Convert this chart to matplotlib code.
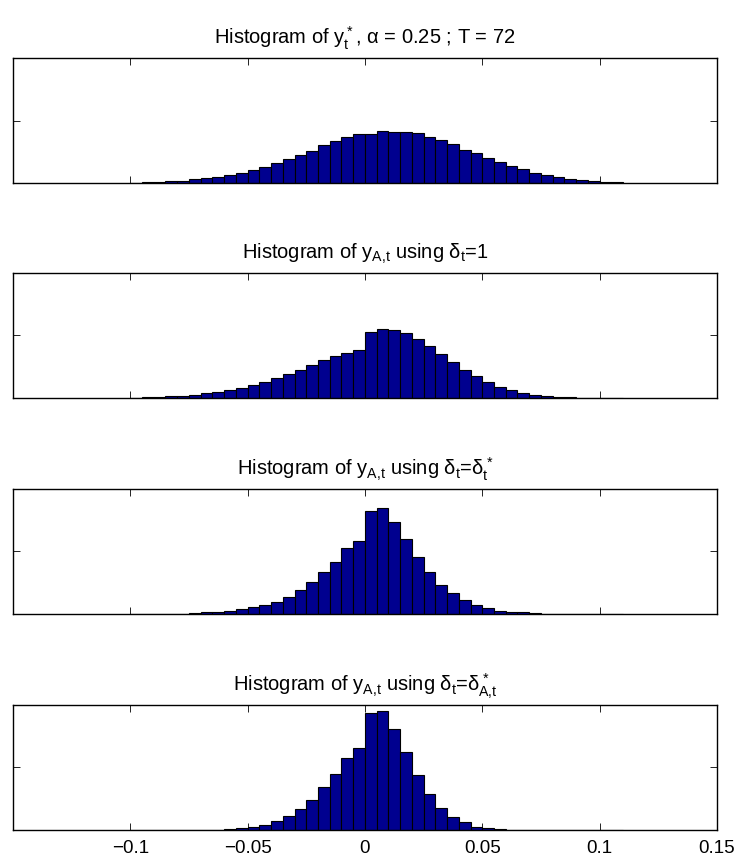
import numpy as np
import matplotlib
matplotlib.use("Agg")
import matplotlib.pyplot as plt

plt.rcParams["font.family"] = ["Liberation Sans", "DejaVu Sans"]
plt.rcParams["mathtext.fontset"] = "custom"
plt.rcParams["mathtext.rm"] = "Liberation Sans"
plt.rcParams["mathtext.it"] = "Liberation Sans"
plt.rcParams["mathtext.bf"] = "Liberation Sans"

# common bin grid: 42 bins of width 0.005 starting at -0.1
bin_start = -0.1
bin_width = 0.005
n_bins = 42

titles = [
    r"Histogram of $y_t^*$, α = 0.25 ; T = 72",
    r"Histogram of $y_{A{,}t}$ using $\delta_t$=1",
    r"Histogram of $y_{A{,}t}$ using $\delta_t$=$\delta_t^*$",
    r"Histogram of $y_{A{,}t}$ using $\delta_t$=$\delta_{A{,}t}^*$",
]

counts_ystar = [20, 50, 80, 130, 190, 290, 370, 480, 610, 830,
                1010, 1280, 1600, 1920, 2240, 2590, 3010, 3390, 3650, 3890,
                3950, 4190, 4080, 4110, 3970, 3650, 3410, 3090, 2670, 2370,
                1970, 1650, 1330, 1090, 770, 610, 510, 350, 210, 160,
                110, 80]
counts_delta1 = [20, 40, 80, 130, 190, 270, 370, 480, 610, 820,
                 1040, 1300, 1570, 1910, 2210, 2610, 3010, 3380, 3590, 3860,
                 5290, 5510, 5450, 5190, 4730, 4180, 3480, 2870, 2260, 1760,
                 1250, 880, 640, 370, 240, 160, 80, 40, 10, 0,
                 0, 0]
counts_dstar = [0, 0, 10, 20, 30, 50, 130, 190, 270, 370,
                560, 720, 990, 1390, 1890, 2560, 3360, 4130, 5250, 5810,
                8240, 8510, 7330, 6030, 4560, 3390, 2320, 1650, 1150, 720,
                480, 270, 190, 130, 50, 20, 10, 0, 0, 0,
                0, 0]
counts_dstar_a = [0, 0, 0, 0, 0, 0, 0, 30, 80, 160,
                  240, 400, 720, 1120, 1680, 2420, 3460, 4470, 5760, 6570,
                  9380, 9520, 8080, 6270, 4430, 2880, 1790, 1060, 640, 240,
                  160, 80, 20, 0, 0, 0, 0, 0, 0, 0,
                  0, 0]
all_counts = [counts_ystar, counts_delta1, counts_dstar, counts_dstar_a]

xticks = [-0.1, -0.05, 0, 0.05, 0.1, 0.15]
xtick_labels = ["\u22120.1", "\u22120.05", "0", "0.05", "0.1", "0.15"]

edges = bin_start + bin_width * np.arange(n_bins + 1)

fig = plt.figure(figsize=(7.41, 8.65), dpi=100)
bottoms = [0.7884, 0.5399, 0.2902, 0.0405]

for k, (title, counts) in enumerate(zip(titles, all_counts)):
    ax = fig.add_axes([0.0175, bottoms[k], 0.950, 0.1445])
    ax.bar(edges[:-1], counts, width=np.diff(edges), align="edge",
           color="#00008F", edgecolor="black", linewidth=0.8)
    ax.set_xlim(-0.15, 0.15)
    ax.set_ylim(0, 10000)
    ax.set_yticks([5000])
    ax.set_yticklabels([])
    ax.set_xticks(xticks)
    if k == 3:
        ax.set_xticklabels(xtick_labels, fontsize=13.5)
    else:
        ax.set_xticklabels([])
    ax.tick_params(direction="in", length=5, width=0.6, top=True, right=True,
                   pad=7)
    for s in ax.spines.values():
        s.set_linewidth(1.0)
    ax.set_title(title, fontsize=14.5, pad=10)

fig.savefig("out.png", dpi=100)
